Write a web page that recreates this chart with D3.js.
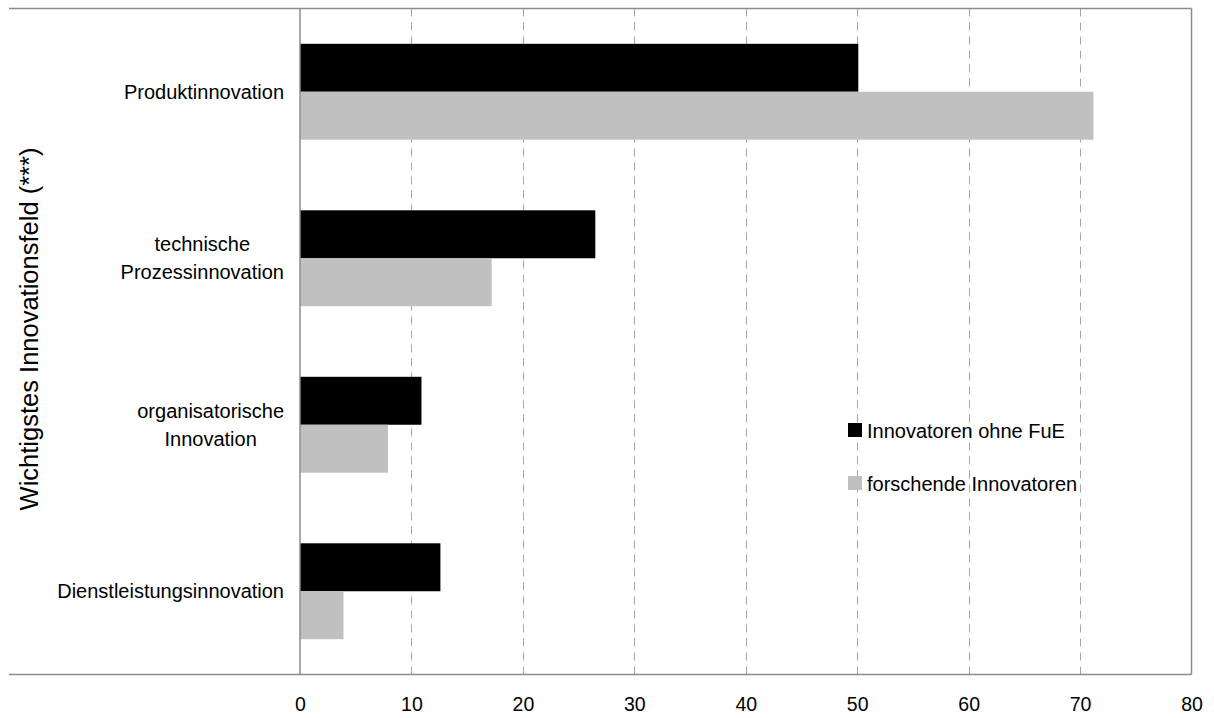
<!DOCTYPE html>
<html><head><meta charset="utf-8">
<script src="https://cdn.jsdelivr.net/npm/d3@7"></script>
<style>body{margin:0;background:#fff}svg{display:block}text{font-family:"Liberation Sans",Arial,sans-serif;fill:#000}</style>
</head><body><svg id="c" width="1214" height="718"></svg>
<script>
const categories = [["Produktinnovation"],["technische","Prozessinnovation"],["organisatorische","Innovation"],["Dienstleistungsinnovation"]];
const seriesNames = ["Innovatoren ohne FuE","forschende Innovatoren"];
const ohneFuE = [50.1, 26.5, 10.9, 12.6];
const forschende = [71.2, 17.2, 7.9, 3.9];
const xTicks = [0,10,20,30,40,50,60,70,80];
const colors = ["#000000","#c0c0c0"];
const yTitle = "Wichtigstes Innovationsfeld (***)";

const svg = d3.select("#c");
const L=300, R=1191.5, T=8.5, B=674.5;
const x = d3.scaleLinear().domain([0,80]).range([L,R]);
const keys = categories.map((c,i)=>i);
const y = d3.scaleBand().domain(keys).range([T,B]).paddingInner(0.424).paddingOuter(0.212);
const y1 = d3.scaleBand().domain([0,1]).range([0,y.bandwidth()]);

// gridlines
svg.append("g").selectAll("line").data(xTicks.filter(t=>t>0&&t<80)).join("line")
  .attr("x1",d=>Math.round(x(d))+0.5).attr("x2",d=>Math.round(x(d))+0.5).attr("y1",T).attr("y2",B)
  .attr("stroke","#a6a6a6").attr("stroke-width",1).attr("stroke-dasharray","8,6");

// bars
const data = [ohneFuE, forschende];
const g = svg.append("g");
data.forEach((arr,s)=>{
  g.selectAll(null).data(arr).join("rect")
    .attr("x",x(0)).attr("y",(d,i)=>y(i)+y1(s)).attr("height",y1.bandwidth())
    .attr("width",d=>x(d)-x(0)).attr("fill",colors[s]);
});

// frame
const fr = svg.append("g").attr("stroke","#8c8c8c").attr("stroke-width",1.5).attr("fill","none");
fr.append("line").attr("x1",9).attr("x2",R).attr("y1",T).attr("y2",T);
fr.append("line").attr("x1",9).attr("x2",R).attr("y1",B).attr("y2",B);
fr.append("line").attr("x1",R).attr("x2",R).attr("y1",T).attr("y2",B);
fr.append("line").attr("x1",L).attr("x2",L).attr("y1",T).attr("y2",B);

// x axis labels
const xa = svg.append("g").attr("transform",`translate(0,${B})`)
  .call(d3.axisBottom(x).tickValues(xTicks).tickSize(0).tickPadding(23).tickFormat(d3.format("d")));
xa.select(".domain").remove();
xa.selectAll("text").attr("font-size",19.5).style("font-family","Liberation Sans, Arial, sans-serif");

// category labels
const cl = svg.append("g");
categories.forEach((lines,i)=>{
  const cy = y(i)+y.bandwidth()/2;
  const lh = 28;
  const t = cl.append("text").attr("text-anchor","middle").attr("font-size",20);
  lines.forEach((ln,j)=>{
    t.append("tspan").attr("x",0).attr("y",cy + (j-(lines.length-1)/2)*lh + 7).text(ln);
  });
  const w = t.node().getBBox().width;
  t.attr("transform",`translate(${284-w/2},0)`);
});

// y title
svg.append("text").attr("transform",`translate(38,329) rotate(-90)`)
  .attr("text-anchor","middle").attr("font-size",25.5).text(yTitle);

// legend
const lg = svg.append("g");
seriesNames.forEach((n,i)=>{
  const yy = 423 + i*53;
  lg.append("rect").attr("x",848).attr("y",yy).attr("width",14).attr("height",14).attr("fill",colors[i]);
  lg.append("text").attr("x",867).attr("y",yy+14.5).attr("font-size",20).text(n);
});
</script></body></html>
